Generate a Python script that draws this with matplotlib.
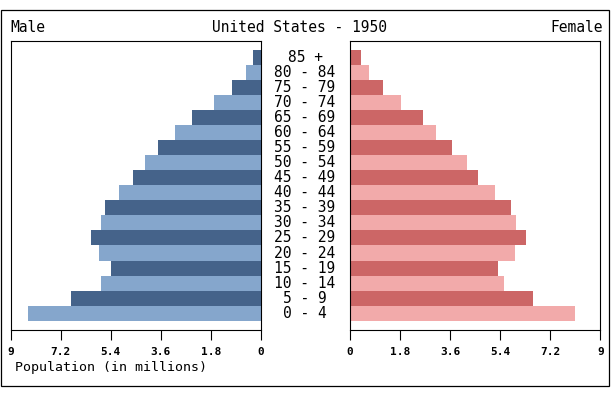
import matplotlib
matplotlib.use("Agg")
import matplotlib.pyplot as plt
import matplotlib.transforms as mtransforms
from matplotlib.patches import Rectangle

plt.rcParams['font.family'] = ['DejaVu Sans Mono', 'DejaVu Sans']

# Data (bottom to top)
age_groups = ["0 - 4", "5 - 9", "10 - 14", "15 - 19", "20 - 24", "25 - 29",
              "30 - 34", "35 - 39", "40 - 44", "45 - 49", "50 - 54", "55 - 59",
              "60 - 64", "65 - 69", "70 - 74", "75 - 79", "80 - 84", "85 +"]
male = [8.37, 6.82, 5.74, 5.38, 5.81, 6.10, 5.74, 5.59, 5.11, 4.59, 4.15, 3.69,
        3.08, 2.46, 1.67, 1.02, 0.53, 0.29]
female = [8.10, 6.59, 5.54, 5.33, 5.94, 6.34, 5.98, 5.80, 5.22, 4.61, 4.21, 3.67,
          3.10, 2.63, 1.84, 1.19, 0.68, 0.40]
ticks = [0, 1.8, 3.6, 5.4, 7.2, 9]
tick_labels = ["0", "1.8", "3.6", "5.4", "7.2", "9"]

male_colors = ["#85a6cc", "#45638a"]
female_colors = ["#f2aaaa", "#cc6666"]

W, H = 611, 395
fig = plt.figure(figsize=(W / 100, H / 100), dpi=100)

def fx(px):
    return px / W

def fy(py):
    return (H - py) / H

ax_top, ax_bot = 40.5, 330
axL = fig.add_axes([fx(10.7), fy(ax_bot), 250 / W, (ax_bot - ax_top) / H])
axR = fig.add_axes([fx(350), fy(ax_bot), 250.3 / W, (ax_bot - ax_top) / H])

n = len(age_groups)
ypos = list(range(n))
mc = [male_colors[i % 2] for i in range(n)]
fc = [female_colors[i % 2] for i in range(n)]

axL.barh(ypos, male, height=1.0, color=mc, linewidth=0)
axR.barh(ypos, female, height=1.0, color=fc, linewidth=0)

axL.set_xlim(9, 0)
axR.set_xlim(0, 9)
for ax in (axL, axR):
    ax.set_ylim(-1.12, 18.13)
    ax.set_yticks([])
    ax.set_xticks(ticks)
    ax.set_xticklabels(tick_labels, fontsize=8, fontweight='bold')
    ax.tick_params(axis='x', direction='out', length=7.5, width=0.8, pad=5, colors='black')
    for s in ax.spines.values():
        s.set_linewidth(0.8)
        s.set_color('black')

# Age labels in the gap between panels
trans = mtransforms.blended_transform_factory(fig.transFigure, axL.transData)
for y, lab in zip(ypos, age_groups):
    axL.text(fx(305), y, lab, transform=trans, ha='center', va='center',
             fontsize=10.5, color='black', clip_on=False)

# Header texts
fig.text(fx(10), fy(28), "Male", ha='left', va='center', fontsize=10.5)
fig.text(fx(603), fy(28), "Female", ha='right', va='center', fontsize=10.5)
fig.text(fx(300), fy(28), "United States - 1950", ha='center', va='center', fontsize=10.5)
fig.text(fx(15), fy(368), "Population (in millions)", ha='left', va='center', fontsize=9.5)

# Outer frame
fig.patches.append(Rectangle((fx(1), fy(386)), 608 / W, 376 / H,
                             transform=fig.transFigure, fill=False,
                             edgecolor='black', linewidth=0.9))

fig.savefig("out.png", dpi=100)
